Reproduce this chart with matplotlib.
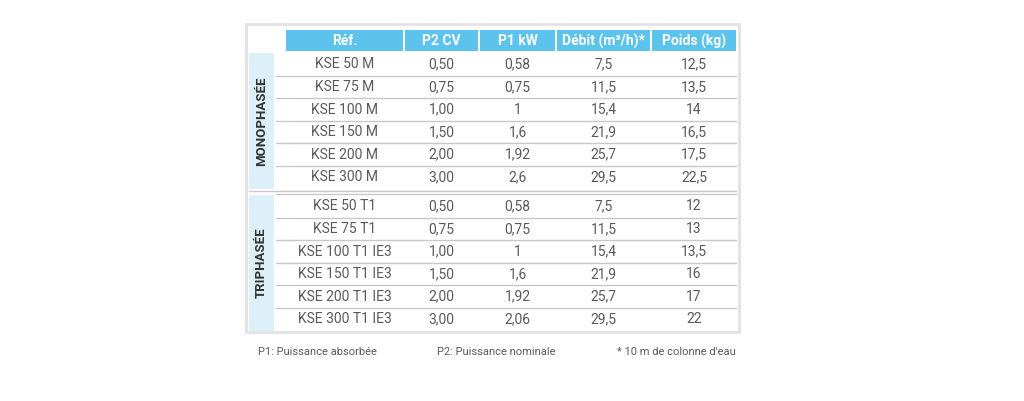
import matplotlib
matplotlib.use("Agg")
import matplotlib.pyplot as plt
from matplotlib.patches import Rectangle

headers = ["Réf.", "P2 CV", "P1 kW", "Débit (m³/h)*", "Poids (kg)"]
groups = ["MONOPHASÉE", "TRIPHASÉE"]
refs = [["KSE 50 M", "KSE 75 M", "KSE 100 M", "KSE 150 M", "KSE 200 M", "KSE 300 M"],
        ["KSE 50 T1", "KSE 75 T1", "KSE 100 T1 IE3", "KSE 150 T1 IE3", "KSE 200 T1 IE3", "KSE 300 T1 IE3"]]
p2_cv = [["0,50", "0,75", "1,00", "1,50", "2,00", "3,00"],
         ["0,50", "0,75", "1,00", "1,50", "2,00", "3,00"]]
p1_kw = [["0,58", "0,75", "1", "1,6", "1,92", "2,6"],
         ["0,58", "0,75", "1", "1,6", "1,92", "2,06"]]
debit = [["7,5", "11,5", "15,4", "21,9", "25,7", "29,5"],
         ["7,5", "11,5", "15,4", "21,9", "25,7", "29,5"]]
poids = [["12,5", "13,5", "14", "16,5", "17,5", "22,5"],
         ["12", "13", "13,5", "16", "17", "22"]]
notes = ["P1: Puissance absorbée", "P2: Puissance nominale", "* 10 m de colonne d'eau"]

FAM = ["Liberation Sans Narrow", "Roboto", "DejaVu Sans"]
TXT = "#5a5a5a"
BLUE = "#5cc3ec"
BAND = "#ddeff9"
LINE = "#c8c8c8"

fig = plt.figure(figsize=(10.24, 4.01), dpi=100)
ax = fig.add_axes([0, 0, 1, 1])
ax.set_xlim(0, 1024); ax.set_ylim(401, 0); ax.axis("off")

# outer frame
ax.add_patch(Rectangle((246, 24), 493, 308, fill=False, ec="#e2e2e2", lw=2))

cols = [(286, 403), (405, 478), (480, 555), (557, 650), (652, 736)]
for (x0, x1), h in zip(cols, headers):
    ax.add_patch(Rectangle((x0, 30), x1 - x0, 21, fc=BLUE, ec="none"))
    ax.text((x0 + x1) / 2, 41, h, ha="center", va="center", color="white",
            fontsize=10, fontweight="bold", family=FAM)

rowh = 22.6
gstart = [53, 195]
for g in range(2):
    y0 = gstart[g]
    ax.add_patch(Rectangle((249, y0), 25, rowh * 6, fc=BAND, ec="none"))
    ax.text(261.5, y0 + rowh * 3, groups[g], rotation=90, ha="center", va="center",
            color="#333333", fontsize=9.5, fontweight="bold", family=FAM)
    for i in range(6):
        yc = y0 + rowh * (i + 0.5)
        vals = [refs[g][i], p2_cv[g][i], p1_kw[g][i], debit[g][i], poids[g][i]]
        for (x0, x1), v in zip(cols, vals):
            ax.text((x0 + x1) / 2, yc, v, ha="center", va="center", color=TXT,
                    fontsize=10, family=FAM)
        if i < 5:
            ax.plot([276, 736], [y0 + rowh * (i + 1)] * 2, color=LINE, lw=1)
ax.plot([249, 736], [191, 191], color=LINE, lw=1)
ax.plot([276, 736], [194, 194], color=LINE, lw=1)

for x, n in zip([258, 437, 617], notes):
    ax.text(x, 352, n, ha="left", va="center", color=TXT, fontsize=8, family=FAM)

fig.savefig("out.png", dpi=100, facecolor="white")
